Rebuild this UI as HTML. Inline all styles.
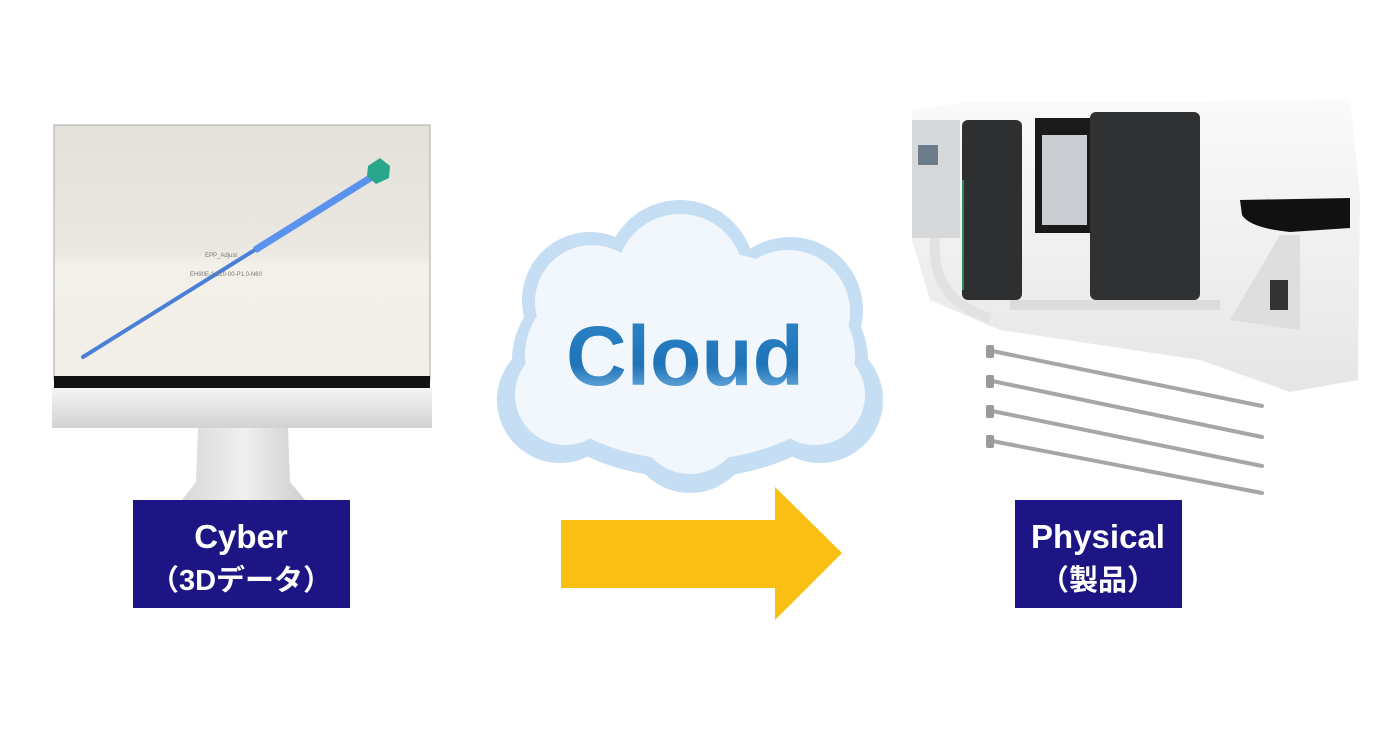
<!DOCTYPE html>
<html><head><meta charset="utf-8"><style>
html,body{margin:0;padding:0;background:#fff;width:1400px;height:730px;overflow:hidden}
</style></head><body>
<svg width="1400" height="730" viewBox="0 0 1400 730" xmlns="http://www.w3.org/2000/svg">
<defs>
<linearGradient id="scr" x1="0" y1="0" x2="0" y2="1"><stop offset="0" stop-color="#e4e1da"/><stop offset="0.5" stop-color="#ebe8e1"/><stop offset="0.55" stop-color="#f3f0ea"/><stop offset="1" stop-color="#f1eee7"/></linearGradient>
<linearGradient id="chin" x1="0" y1="0" x2="0" y2="1"><stop offset="0" stop-color="#f4f4f4"/><stop offset="1" stop-color="#d2d2d2"/></linearGradient>
<linearGradient id="neck" x1="0" y1="0" x2="1" y2="0"><stop offset="0" stop-color="#d8d8d8"/><stop offset="0.5" stop-color="#efefef"/><stop offset="1" stop-color="#cfcfcf"/></linearGradient>
<linearGradient id="ct" x1="0" y1="0" x2="0" y2="1"><stop offset="0" stop-color="#2d86c8"/><stop offset="0.6" stop-color="#1f73b8"/><stop offset="1" stop-color="#8cc4ec"/></linearGradient>
<linearGradient id="mach" x1="0" y1="0" x2="0" y2="1"><stop offset="0" stop-color="#fafafa"/><stop offset="1" stop-color="#e6e6e6"/></linearGradient>
</defs>
<!-- monitor -->
<rect x="54" y="125" width="376" height="255" fill="url(#scr)" stroke="#aaa" stroke-width="1"/>
<rect x="54" y="376" width="376" height="12" fill="#111"/>
<rect x="52" y="388" width="380" height="40" fill="url(#chin)"/>
<polygon points="198,428 288,428 290,482 305,500 182,500 196,482" fill="url(#neck)"/>
<line x1="83" y1="357" x2="375" y2="175" stroke="#4a7fd6" stroke-width="4" stroke-linecap="round"/>
<line x1="255" y1="250" x2="375" y2="175" stroke="#5b92ee" stroke-width="7"/>
<polygon points="368,166 380,158 390,166 389,178 376,184 367,176" fill="#2aa68a"/>
<text x="205" y="257" font-family="Liberation Sans,sans-serif" font-size="6" fill="#777">EPP_Adjust</text>
<text x="190" y="276" font-family="Liberation Sans,sans-serif" font-size="6" fill="#777">EH90E-1-110-00-P1.0-N60</text>
<!-- labels -->
<rect x="133" y="500" width="217" height="108" fill="#1c1583"/>
<text x="241" y="548" text-anchor="middle" font-family="Liberation Sans Narrow,Liberation Sans,sans-serif" font-weight="bold" font-size="33" fill="#fff">Cyber</text>
<text x="241" y="590" text-anchor="middle" font-family="Liberation Sans Narrow,Liberation Sans,'Noto Sans CJK JP',sans-serif" font-weight="bold" font-size="29" fill="#fff">（3Dデータ）</text>
<rect x="1015" y="500" width="167" height="108" fill="#1c1583"/>
<text x="1098" y="548" text-anchor="middle" font-family="Liberation Sans Narrow,Liberation Sans,sans-serif" font-weight="bold" font-size="33" fill="#fff">Physical</text>
<text x="1098" y="590" text-anchor="middle" font-family="Liberation Sans Narrow,Liberation Sans,'Noto Sans CJK JP',sans-serif" font-weight="bold" font-size="29" fill="#fff">（製品）</text>
<!-- cloud -->
<g fill="#c6def4" stroke="#c6def4" stroke-width="6">
<ellipse cx="690" cy="360" rx="175" ry="115"/>
<circle cx="680" cy="275" r="72"/>
<circle cx="590" cy="300" r="65"/>
<circle cx="790" cy="310" r="70"/>
<circle cx="560" cy="400" r="60"/>
<circle cx="820" cy="400" r="60"/>
<circle cx="690" cy="430" r="60"/>
</g>
<g fill="#f2f7fd">
<ellipse cx="690" cy="355" rx="165" ry="105"/>
<circle cx="680" cy="278" r="64"/>
<circle cx="592" cy="302" r="57"/>
<circle cx="788" cy="312" r="62"/>
<circle cx="565" cy="395" r="50"/>
<circle cx="815" cy="395" r="50"/>
<circle cx="690" cy="422" r="52"/>
</g>
<text x="685" y="385" text-anchor="middle" font-family="Liberation Sans,sans-serif" font-weight="bold" font-size="84" fill="url(#ct)">Cloud</text>
<!-- arrow -->
<polygon points="561,520 775,520 775,487 842,553 775,620 775,588 561,588" fill="#f9c013"/>
<!-- machine -->
<polygon points="912,110 960,103 1350,100 1360,195 1358,380 1290,392 1200,360 1000,330 930,300 912,240" fill="url(#mach)"/>
<rect x="912" y="120" width="48" height="118" fill="#d6d8da"/>
<rect x="918" y="145" width="20" height="20" fill="#6c7c8a"/>
<path d="M935 238 Q930 300 990 318" stroke="#e2e2e2" stroke-width="10" fill="none"/>
<rect x="962" y="120" width="60" height="180" rx="6" fill="#2d2f31"/>
<line x1="963" y1="180" x2="963" y2="290" stroke="#2a8a5c" stroke-width="2"/>
<rect x="1035" y="118" width="58" height="115" fill="#1a1a1a"/>
<rect x="1042" y="135" width="45" height="90" fill="#c9ccd0"/>
<rect x="1090" y="112" width="110" height="188" rx="6" fill="#2f3133"/>
<rect x="1010" y="300" width="210" height="10" fill="#dcdcdc"/>
<path d="M1240 200 L1350 198 L1350 228 L1290 232 Q1250 228 1242 215 Z" fill="#111"/>
<polygon points="1230,320 1280,235 1300,235 1300,330" fill="#dedede"/>
<rect x="1270" y="280" width="18" height="30" fill="#333"/>
<!-- pins -->
<g stroke="#a6a6a6" stroke-width="4" stroke-linecap="round">
<line x1="992" y1="351" x2="1262" y2="406"/>
<line x1="992" y1="381" x2="1262" y2="437"/>
<line x1="992" y1="411" x2="1262" y2="466"/>
<line x1="992" y1="441" x2="1262" y2="493"/>
</g>
<g fill="#9a9a9a">
<rect x="986" y="345" width="8" height="13" rx="2"/>
<rect x="986" y="375" width="8" height="13" rx="2"/>
<rect x="986" y="405" width="8" height="13" rx="2"/>
<rect x="986" y="435" width="8" height="13" rx="2"/>
</g>
</svg>
</body></html>
